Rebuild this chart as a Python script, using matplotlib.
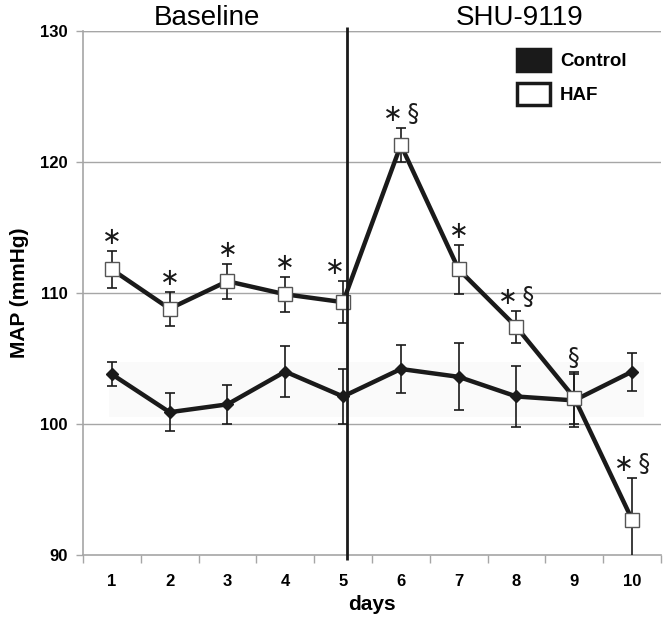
import matplotlib
matplotlib.use("Agg")
import matplotlib.pyplot as plt
import numpy as np
from matplotlib.patches import Patch

days = [1, 2, 3, 4, 5, 6, 7, 8, 9, 10]
control = [103.8, 100.9, 101.5, 104.0, 102.1, 104.2, 103.6, 102.1, 101.8, 104.0]
control_err = [0.9, 1.45, 1.5, 1.95, 2.1, 1.8, 2.55, 2.35, 2.05, 1.45]
haf = [111.8, 108.8, 110.9, 109.9, 109.3, 121.3, 111.8, 107.4, 102.0, 92.7]
haf_err = [1.4, 1.3, 1.35, 1.35, 1.6, 1.3, 1.85, 1.25, 2.0, 3.15]
marks = ["∗", "∗", "∗", "∗", "∗", "∗\u2009§", "∗", "∗\u2009§", "§", "∗\u2009§"]
yticks = [90, 100, 110, 120, 130]

plt.rcParams['font.family'] = ['Liberation Sans', 'DejaVu Sans']

fig = plt.figure(figsize=(6.63, 6.26), dpi=100)
ax = fig.add_axes([0.125, 0.1134, 0.872, 0.8371])

grid_c = '#a6a6a6'
ax.set_ylim(90, 130)
ax.set_xlim(0.5, 10.5)
for y in yticks[1:]:
    ax.axhline(y, color=grid_c, lw=1.0, zorder=0)

ax.fill_between([0.95, 10.2], 100.55, 104.7, color='#fafafa', lw=0, zorder=0)

ax.errorbar(days, control, yerr=control_err, fmt='none', ecolor='#1a1a1a',
            elinewidth=1.2, capsize=3.5, capthick=1.2, zorder=3)
ax.errorbar(days, haf, yerr=haf_err, fmt='none', ecolor='#1a1a1a',
            elinewidth=1.2, capsize=3.5, capthick=1.2, zorder=3)
ax.plot(days, control, color='#1a1a1a', lw=3.2, marker='D', ms=6.5,
        mfc='#1a1a1a', mec='#1a1a1a', zorder=4)
ax.plot(days, haf, color='#1a1a1a', lw=3.2, zorder=4)
ax.plot(days, haf, lw=0, marker='s', ms=10, mfc='white', mec='#555555',
        mew=1.0, zorder=5)

ax.plot([5.07, 5.07], [89.6, 130.3], color='#1a1a1a', lw=2.0, zorder=6,
        clip_on=False, solid_capstyle='butt')

for d, v, e, m in zip(days, haf, haf_err, marks):
    xoff = -0.15 if d == 5 else 0.0
    ax.text(d + xoff, v + e + 0.15, m, ha='center', va='bottom', fontsize=17,
            family=['DejaVu Sans'], color='#1a1a1a', zorder=7)

ax.set_yticks(yticks)
ax.set_yticklabels([str(t) for t in yticks], fontsize=12, fontweight='bold')
ax.set_xticks(np.arange(0.5, 11, 1.0))
ax.set_xticklabels([])
ax.set_xticks(days, minor=True)
ax.set_xticklabels([str(d) for d in days], minor=True, fontsize=12, fontweight='bold')
ax.tick_params(axis='x', which='minor', length=0, pad=14)
ax.tick_params(axis='x', which='major', length=6, color=grid_c, width=1.0, direction='out')
ax.tick_params(axis='y', length=5, color=grid_c, width=1.0, pad=6)

for s in ['top', 'right']:
    ax.spines[s].set_visible(False)
for s in ['left', 'bottom']:
    ax.spines[s].set_color(grid_c)
    ax.spines[s].set_linewidth(1.2)
ax.axhline(130, color=grid_c, lw=1.0, zorder=0)

ax.set_ylabel('MAP (mmHg)', fontsize=15, fontweight='bold', labelpad=8)
ax.set_xlabel('days', fontsize=15, fontweight='bold', labelpad=4)

ax.text(2.65, 129.98, 'Baseline', ha='center', va='bottom', fontsize=20)
ax.text(8.05, 129.98, 'SHU-9119', ha='center', va='bottom', fontsize=20)

handles = [Patch(facecolor='#1a1a1a', edgecolor='#1a1a1a', lw=2.5),
           Patch(facecolor='white', edgecolor='#1a1a1a', lw=2.5)]
leg = fig.legend(handles, ['Control', 'HAF'], loc='upper left',
                 bbox_to_anchor=(517 / 663, 1 - 49 / 626), bbox_transform=fig.transFigure,
                 frameon=False, prop={'weight': 'bold', 'size': 13.5},
                 handlelength=1.75, handleheight=1.4, handletextpad=0.55,
                 labelspacing=0.65, borderpad=0, borderaxespad=0)

fig.savefig('out.png', dpi=100)
